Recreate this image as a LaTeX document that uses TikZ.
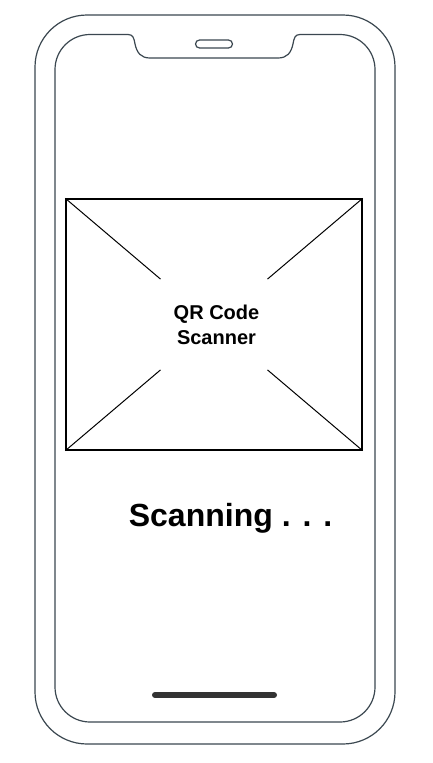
\documentclass[tikz,border=0pt]{standalone}
\usepackage{fontspec}
\setmainfont{Liberation Sans}
\usetikzlibrary{calc}
\definecolor{phoneline}{HTML}{3B4750}
\definecolor{homebar}{HTML}{333333}
\begin{document}
\begin{tikzpicture}[x=1pt, y=-1pt, phone/.style={draw=phoneline, line width=1.2pt}, cross/.style={draw=black, line width=1pt}]
            \useasboundingbox[fill=white] (0,0) rectangle (433,763);
            % phone body and screen
            \draw[phone, rounded corners=52] (35,15) rectangle (395,744);
            \draw[phone] (55,69.5) arc[start angle=180, end angle=270, radius=35] -- (128,34.5)
                .. controls (133,34.5) and (134,38) .. (135,44)
                .. controls (137,53) and (141,58) .. (150,58) -- (278,58)
                .. controls (287,58) and (291,53) .. (293,44)
                .. controls (294,38) and (295,34.5) .. (300,34.5) -- (340,34.5)
                arc[start angle=270, end angle=360, radius=35] -- (375,687)
                arc[start angle=0, end angle=90, radius=35] -- (90,722)
                arc[start angle=90, end angle=180, radius=35] -- cycle;
            \draw[phone, rounded corners=4] (195.5,40) rectangle (232.5,48);
            \draw[homebar, line width=6pt, line cap=round] (155,695) -- (274,695);

            % scanner placeholder
            \node[cross, line width=1.4pt, minimum width=296, minimum height=251, inner sep=0pt] (scanbox) at (214,324.5) {};
            \draw[cross] (scanbox.north west) -- ($(scanbox.north west)!0.32!(scanbox.south east)$);
            \draw[cross] (scanbox.north east) -- ($(scanbox.north east)!0.32!(scanbox.south west)$);
            \draw[cross] (scanbox.south west) -- ($(scanbox.south west)!0.32!(scanbox.north east)$);
            \draw[cross] (scanbox.south east) -- ($(scanbox.south east)!0.32!(scanbox.north west)$);
            \node[font=\fontsize{20}{25}\selectfont\bfseries, align=center] (qrlabel) at (216.5,325) {QR Code\\Scanner};

            \node[font=\fontsize{32}{40}\selectfont\bfseries, anchor=base] (status) at (230.5,526) {Scanning . . .};
        \end{tikzpicture}
\end{document}
